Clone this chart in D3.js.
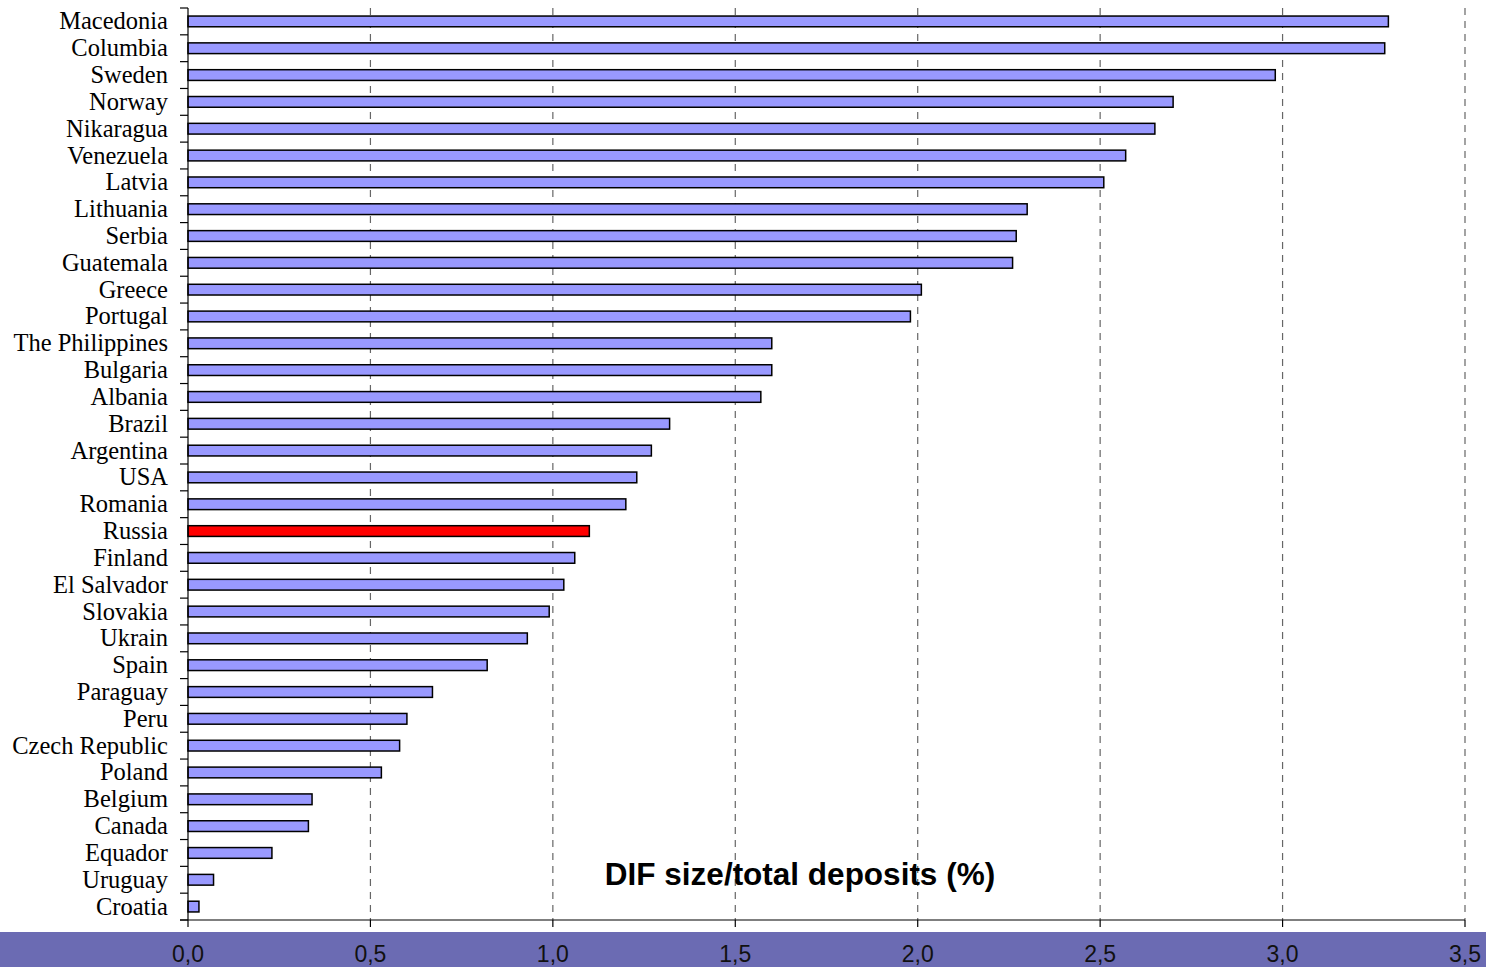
<!DOCTYPE html>
<html><head><meta charset="utf-8">
<script src="https://cdn.jsdelivr.net/npm/d3@7"></script>
<style>html,body{margin:0;padding:0;background:#fff;overflow:hidden}</style>
</head><body>
<svg id="chart" width="1486" height="967"></svg>
<script>
const categories = ["Macedonia","Columbia","Sweden","Norway","Nikaragua","Venezuela","Latvia","Lithuania","Serbia","Guatemala","Greece","Portugal","The Philippines","Bulgaria","Albania","Brazil","Argentina","USA","Romania","Russia","Finland","El Salvador","Slovakia","Ukrain","Spain","Paraguay","Peru","Czech Republic","Poland","Belgium","Canada","Equador","Uruguay","Croatia"];
const values = [3.29,3.28,2.98,2.70,2.65,2.57,2.51,2.30,2.27,2.26,2.01,1.98,1.60,1.60,1.57,1.32,1.27,1.23,1.20,1.10,1.06,1.03,0.99,0.93,0.82,0.67,0.60,0.58,0.53,0.34,0.33,0.23,0.07,0.03];
const highlight = ["Russia"];
const xTicks = [0,0.5,1.0,1.5,2.0,2.5,3.0,3.5];
const title = "DIF size/total deposits (%)";

(function(){
const svg = d3.select("#chart");
const mLeft = 188, mRight = 1465, mTop = 8, mBottom = 920;
const x = d3.scaleLinear().domain([0,3.5]).range([mLeft,mRight]);
const y = d3.scaleBand().domain(categories).range([mTop,mBottom]).paddingInner(0.6).paddingOuter(0.3);
const fmt = d3.formatLocale({decimal:",",thousands:".",grouping:[3],currency:["",""]}).format(".1f");

// gridlines
svg.append("g").selectAll("line").data(xTicks.filter(d=>d>0)).join("line")
  .attr("x1",d=>x(d)).attr("x2",d=>x(d)).attr("y1",mTop).attr("y2",mBottom)
  .attr("stroke","#666").attr("stroke-width",1.2).attr("stroke-dasharray","7,6");

// bars
svg.append("g").selectAll("rect").data(categories).join("rect")
  .attr("x",x(0)).attr("y",d=>y(d))
  .attr("width",(d,i)=>x(values[i])-x(0)).attr("height",y.bandwidth())
  .attr("fill",d=>highlight.includes(d)?"#FF0000":"#9999FF")
  .attr("stroke","#000").attr("stroke-width",1.5);

// left axis line & ticks at band boundaries
const step = y.step();
const bounds = categories.map(c=>y(c) - (step - y.bandwidth())/2);
bounds.push(mBottom);
svg.append("line").attr("x1",mLeft).attr("x2",mLeft).attr("y1",mTop).attr("y2",mBottom).attr("stroke","#000").attr("stroke-width",1.2);
svg.append("g").selectAll("line").data(bounds).join("line")
  .attr("x1",mLeft-8).attr("x2",mLeft).attr("y1",d=>d).attr("y2",d=>d)
  .attr("stroke","#000").attr("stroke-width",1.2);

// category labels
svg.append("g").selectAll("text").data(categories).join("text")
  .attr("x",168).attr("y",d=>y(d)+y.bandwidth()/2+8)
  .attr("text-anchor","end").attr("font-family","'Liberation Serif','Times New Roman',serif")
  .attr("font-size",24.5).attr("fill","#000").text(d=>d);

// bottom axis
svg.append("line").attr("x1",mLeft-8).attr("x2",mRight).attr("y1",mBottom).attr("y2",mBottom).attr("stroke","#000").attr("stroke-width",1.2);
svg.append("g").selectAll("line").data(xTicks).join("line")
  .attr("x1",d=>x(d)).attr("x2",d=>x(d)).attr("y1",mBottom).attr("y2",mBottom+7)
  .attr("stroke","#000").attr("stroke-width",1.2);

// band
svg.append("rect").attr("x",0).attr("y",932).attr("width",1486).attr("height",35).attr("fill","#6B6BB3");
svg.append("g").selectAll("text").data(xTicks).join("text")
  .attr("x",d=>x(d)).attr("y",962).attr("text-anchor","middle")
  .attr("font-family","'Liberation Sans',Arial,sans-serif").attr("font-size",23).attr("fill","#111")
  .text(d=>fmt(d));

// title
svg.append("text").attr("x",800).attr("y",885).attr("text-anchor","middle")
  .attr("font-family","'Liberation Sans',Arial,sans-serif").attr("font-weight","bold").attr("font-size",31.5)
  .attr("fill","#000").text(title);
})();
</script>
</body></html>
